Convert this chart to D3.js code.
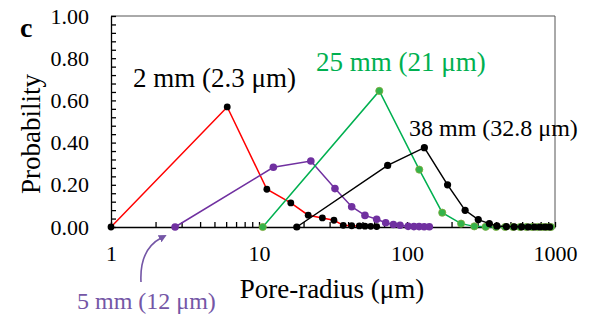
<!DOCTYPE html>
<html>
<head>
<meta charset="utf-8">
<script src="https://cdn.jsdelivr.net/npm/d3@7"></script>
<style>
  body { margin: 0; background: #fff; }
  text { font-family: "Liberation Serif", "Times New Roman", serif; }
</style>
</head>
<body>
<div id="chart"></div>
<script>
// pore radius (um) and probability, one pair of arrays per sample
const x2mm = [1, 6.1, 11.3, 16.4, 21.5, 26.8, 32.1, 37.1, 42.3, 47.6, 52, 56.9, 62.4];
const p2mm = [0, 0.569, 0.179, 0.114, 0.056, 0.043, 0.032, 0.008, 0.006, 0.005, 0.004, 0.003, 0.002];

const x5mm = [2.71, 12.5, 22.4, 32.6, 42.3, 52, 62.4, 71.8, 80.9, 89.8, 101.8, 111.4, 120.7, 130.6, 141.5];
const p5mm = [0, 0.283, 0.313, 0.182, 0.096, 0.055, 0.037, 0.020, 0.012, 0.008, 0.003, 0.002, 0.002, 0.001, 0.001];

const x25mm = [10.6, 65, 121, 173, 232, 285, 340, 400, 460, 520, 580, 640, 700, 760, 820, 880, 940];
const p25mm = [0, 0.645, 0.272, 0.068, 0.016, 0.003, 0.001, 0, 0, 0, 0, 0, 0, 0, 0, 0, 0];

const x38mm = [18, 74, 131, 188, 247, 303, 360, 405, 470, 530, 595, 660, 725, 790, 855, 920];
const p38mm = [0, 0.292, 0.376, 0.200, 0.079, 0.035, 0.016, 0.005, 0.002, 0.001, 0.001, 0, 0, 0, 0, 0];

const xMajor = [1, 10, 100, 1000];
const yMajor = [0, 0.2, 0.4, 0.6, 0.8, 1.0];

const width = 592;
const height = 322;

const marginLeft = 111;
const marginTop = 16;
const chartWidth = 444;
const chartHeight = 211;

const svg = d3.select('#chart').append('svg')
  .attr('width', width)
  .attr('height', height);

const x = d3.scaleLog()
  .domain([1, 1000])
  .range([marginLeft, marginLeft + chartWidth]);

const y = d3.scaleLinear()
  .domain([0, 1])
  .range([marginTop + chartHeight, marginTop]);

// minor ticks: every integer step inside each decade, every 0.04 on y
const xTicks = [];
[1, 10, 100].forEach(d => { for (let k = 1; k < 10; k++) xTicks.push(d * k); });
xTicks.push(1000);
const yTicks = d3.range(0, 26).map(i => +(i * 0.04).toFixed(2));

// frame (top and right)
svg.append('path')
  .attr('d', `M${x(1)},${y(1)}H${x(1000)}V${y(0)}`)
  .attr('fill', 'none')
  .attr('stroke', '#555')
  .attr('stroke-width', 1);

const xAxis = d3.axisBottom(x)
  .tickValues(xTicks)
  .tickSizeInner(-5)
  .tickSizeOuter(0)
  .tickPadding(18)
  .tickFormat(d => xMajor.includes(d) ? d : '');

const yAxis = d3.axisLeft(y)
  .tickValues(yTicks)
  .tickSizeInner(-5)
  .tickSizeOuter(0)
  .tickPadding(22)
  .tickFormat(d => yMajor.some(v => Math.abs(v - d) < 1e-6) ? d3.format('.2f')(d) : '');

svg.append('g')
  .attr('transform', `translate(0, ${y(0)})`)
  .call(xAxis)
  .call(g => g.selectAll('.domain, line').attr('stroke', '#000').attr('stroke-width', 1.3))
  .selectAll('text')
    .attr('font-family', '"Liberation Serif", serif')
    .attr('font-size', 22)
    .attr('fill', '#000');

svg.append('g')
  .attr('transform', `translate(${x(1)}, 0)`)
  .call(yAxis)
  .call(g => g.selectAll('.domain, line').attr('stroke', '#000').attr('stroke-width', 1.3))
  .selectAll('text')
    .attr('font-family', '"Liberation Serif", serif')
    .attr('font-size', 22)
    .attr('fill', '#000');

// series
const series = [
  { xs: x2mm, ps: p2mm, line: '#FF0000', dot: '#000', r: 3.4 },
  { xs: x5mm, ps: p5mm, line: '#7030A0', dot: '#7030A0', r: 3.8 },
  { xs: x25mm, ps: p25mm, line: '#00B050', dot: '#33B34A', r: 3.6 },
  { xs: x38mm, ps: p38mm, line: '#000', dot: '#000', r: 3.6 }
];

const line = d3.line()
  .x(d => x(d[0]))
  .y(d => y(d[1]));

series.forEach(s => {
  const pts = s.xs.map((v, i) => [v, s.ps[i]]);

  svg.append('path')
    .datum(pts)
    .attr('d', line)
    .attr('fill', 'none')
    .attr('stroke', s.line)
    .attr('stroke-width', 1.5);

  svg.selectAll(null)
    .data(pts)
    .enter().append('circle')
    .attr('cx', d => x(d[0]))
    .attr('cy', d => y(d[1]))
    .attr('r', s.r)
    .attr('fill', s.dot)
    .attr('stroke', s.dot === '#33B34A' ? '#7FA83A' : 'none')
    .attr('stroke-width', 0.8);
});

// labels
const labels = [
  { t: '2 mm (2.3 μm)', x: 133, y: 87, size: 27, fill: '#000' },
  { t: '25 mm (21 μm)', x: 316, y: 71, size: 27, fill: '#00B050' },
  { t: '38 mm (32.8 μm)', x: 409, y: 136, size: 24, fill: '#000' },
  { t: '5 mm (12 μm)', x: 77, y: 309, size: 24, fill: '#7456A6' }
];

svg.selectAll('.note')
  .data(labels)
  .enter().append('text')
  .attr('class', 'note')
  .attr('x', d => d.x)
  .attr('y', d => d.y)
  .attr('font-size', d => d.size)
  .attr('fill', d => d.fill)
  .text(d => d.t);

// arrow from the 5 mm label to its first point
svg.append('defs').append('marker')
  .attr('id', 'head')
  .attr('viewBox', '0 0 10 10')
  .attr('refX', 2)
  .attr('refY', 5)
  .attr('markerWidth', 5)
  .attr('markerHeight', 5)
  .attr('orient', 'auto')
  .append('path')
  .attr('d', 'M0,0L10,5L0,10Z')
  .attr('fill', '#7456A6');

svg.append('path')
  .attr('d', 'M141,282C140,262 146,246 161,238')
  .attr('fill', 'none')
  .attr('stroke', '#7456A6')
  .attr('stroke-width', 1.6)
  .attr('marker-end', 'url(#head)');

// axis titles
svg.append('text')
  .attr('x', 332)
  .attr('y', 298)
  .attr('text-anchor', 'middle')
  .attr('font-size', 27)
  .text('Pore-radius (μm)');

svg.append('text')
  .attr('transform', 'translate(40, 134) rotate(-90)')
  .attr('text-anchor', 'middle')
  .attr('font-size', 27)
  .text('Probability');

svg.append('text')
  .attr('x', 20)
  .attr('y', 37)
  .attr('font-size', 28)
  .attr('font-weight', 'bold')
  .text('c');
</script>
</body>
</html>
